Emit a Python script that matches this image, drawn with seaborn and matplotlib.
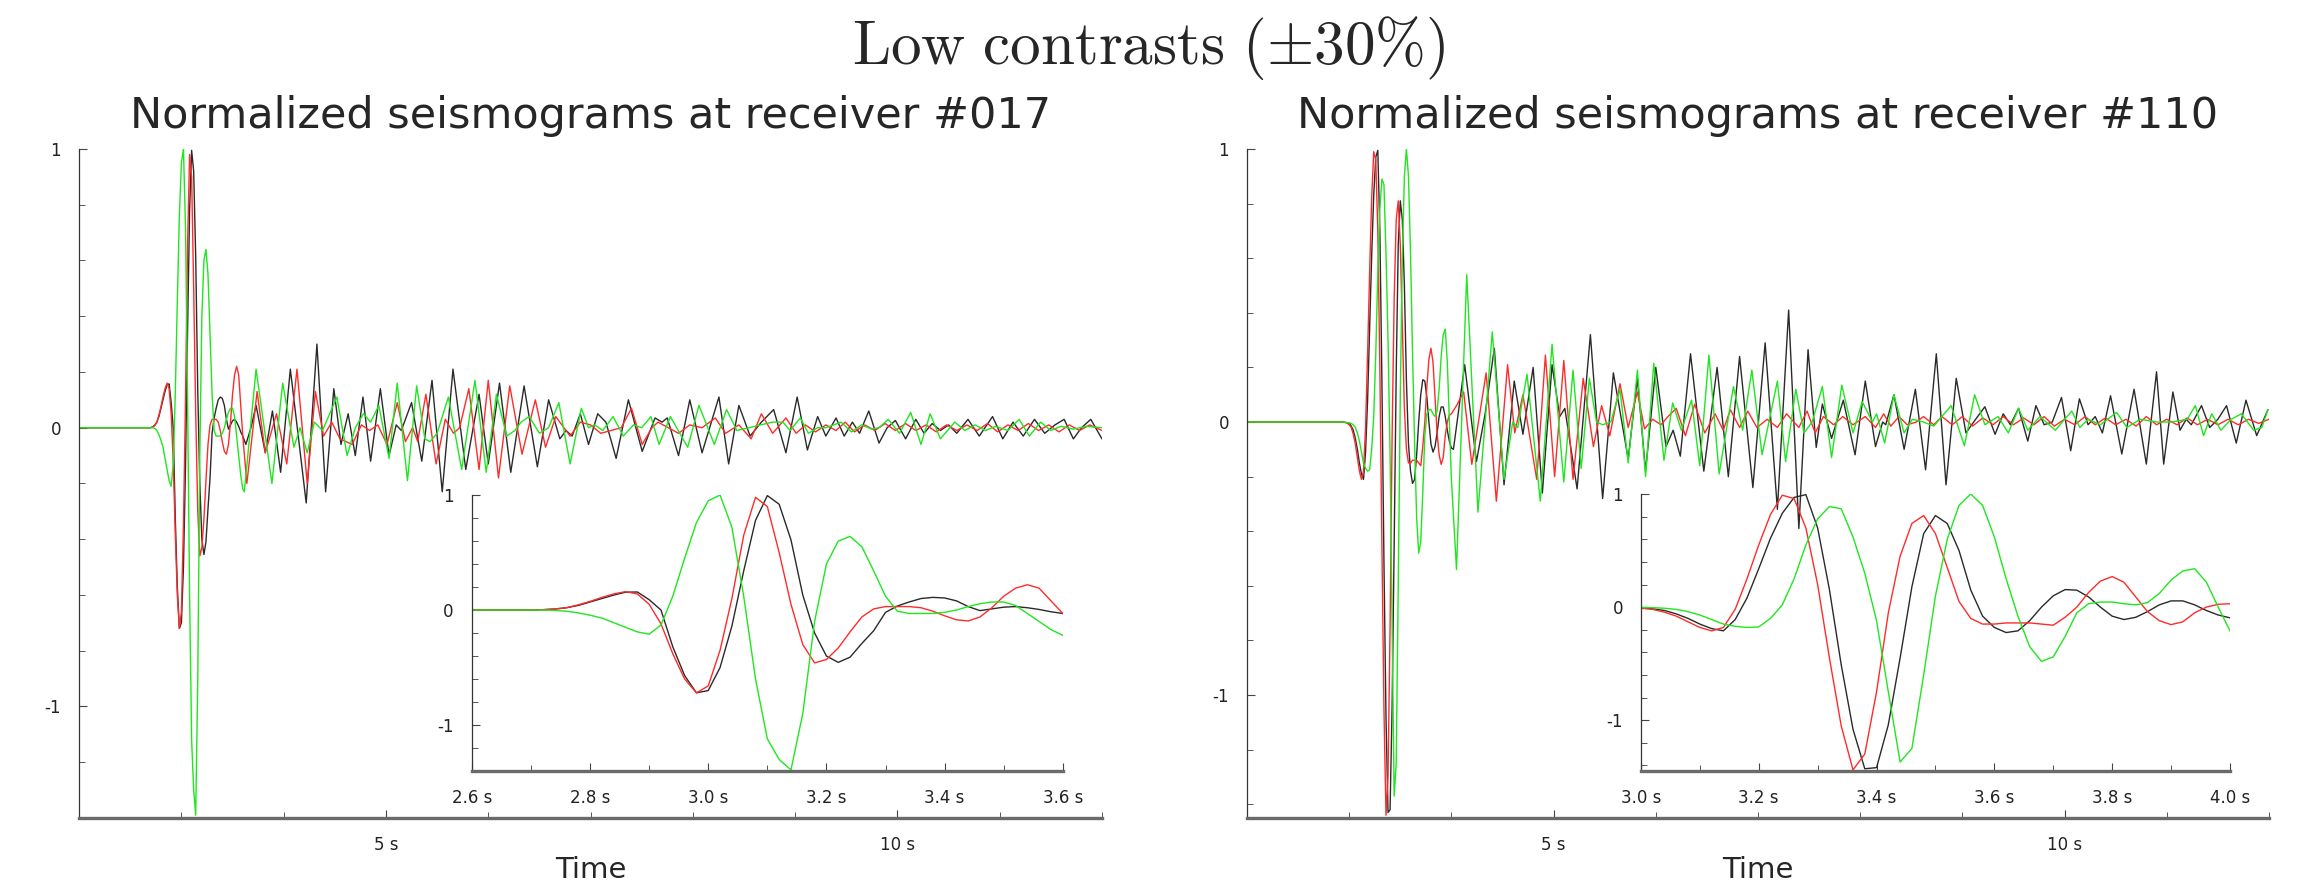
import matplotlib
matplotlib.use("Agg")
import matplotlib.pyplot as plt
from matplotlib.ticker import FixedLocator, MultipleLocator, FuncFormatter
import pandas as pd
import seaborn as sns

# ---------------- data ----------------
suptitle_text = r"$\mathrm{Low\ contrasts}\ (\pm 30\%)$"
title_017 = "Normalized seismograms at receiver #017"
title_110 = "Normalized seismograms at receiver #110"
xlabel_text = "Time"
trace_names = ["black", "red", "green"]
main_xticks = [5, 10]
main_yticks = [-1, 0, 1]
inset017_xticks = [2.6, 2.8, 3.0, 3.2, 3.4, 3.6]
inset110_xticks = [3.0, 3.2, 3.4, 3.6, 3.8, 4.0]

# receiver #017 : dense samples over the first arrival (also shown in the inset)
r017_pre = [(2.0, 0.0), (2.6, 0.0)]
r017_t = [2.70, 2.72, 2.74, 2.76, 2.78, 2.80, 2.82, 2.84, 2.86, 2.88,
          2.90, 2.92, 2.94, 2.96, 2.98, 3.00, 3.02, 3.04, 3.06, 3.08,
          3.10, 3.12, 3.14, 3.16, 3.18, 3.20, 3.22, 3.24, 3.26, 3.28,
          3.30, 3.32, 3.34, 3.36, 3.38, 3.40, 3.42, 3.44, 3.46, 3.48,
          3.50, 3.52, 3.54, 3.56, 3.58, 3.60]
r017_black = [0.0, 0.003, 0.008, 0.02, 0.04, 0.07, 0.10, 0.13, 0.155, 0.157,
              0.09, 0.0, -0.32, -0.57, -0.72, -0.70, -0.50, -0.14, 0.34, 0.78,
              0.995, 0.92, 0.61, 0.13, -0.20, -0.40, -0.455, -0.41, -0.29, -0.18,
              -0.02, 0.035, 0.07, 0.10, 0.11, 0.105, 0.08, 0.03, -0.005, 0.01,
              0.025, 0.03, 0.02, 0.005, -0.015, -0.03]
r017_red = [0.0, 0.003, 0.01, 0.02, 0.045, 0.075, 0.11, 0.14, 0.16, 0.14,
            0.05, -0.12, -0.38, -0.60, -0.72, -0.66, -0.35, 0.10, 0.65, 0.98,
            0.90, 0.50, 0.05, -0.30, -0.46, -0.43, -0.33, -0.19, -0.06, 0.01,
            0.03, 0.03, 0.03, 0.02, -0.01, -0.05, -0.085, -0.095, -0.06, 0.02,
            0.12, 0.19, 0.22, 0.19, 0.08, -0.03]
r017_green = [0.0, 0.0, -0.003, -0.01, -0.025, -0.045, -0.07, -0.11, -0.15, -0.19,
              -0.21, -0.13, 0.12, 0.45, 0.76, 0.95, 1.0, 0.72, 0.12, -0.60,
              -1.12, -1.30, -1.39, -0.90, -0.10, 0.40, 0.60, 0.64, 0.55, 0.34,
              0.12, -0.01, -0.03, -0.03, -0.03, -0.02, 0.0, 0.03, 0.055, 0.07,
              0.07, 0.04, -0.03, -0.10, -0.17, -0.22]
# coda extrema (time, amplitude)
r017_black_tail = [(3.63, -0.06), (3.68, 0.0), (3.73, 0.08), (3.82, -0.09), (3.89, 0.06), (3.97, -0.16),
                   (4.065, 0.21), (4.22, -0.27), (4.325, 0.30), (4.41, -0.23), (4.49, 0.14), (4.56, -0.06),
                   (4.63, 0.05), (4.70, -0.10), (4.775, 0.11), (4.85, -0.12), (4.945, 0.14), (5.03, -0.10),
                   (5.10, 0.01), (5.15, -0.01), (5.25, 0.09), (5.35, -0.12), (5.45, 0.17), (5.55, -0.23),
                   (5.655, 0.21), (5.78, -0.15), (5.91, 0.12), (6.00, -0.13), (6.11, 0.16), (6.22, -0.16),
                   (6.35, 0.15), (6.48, -0.14), (6.59, 0.10), (6.70, -0.04), (6.76, -0.01), (6.82, -0.03),
                   (6.90, 0.05), (6.98, -0.06), (7.07, 0.05), (7.15, 0.02), (7.25, -0.11), (7.37, 0.10),
                   (7.505, -0.085), (7.63, 0.035), (7.70, 0.02), (7.75, 0.035), (7.86, -0.10), (7.97, 0.10),
                   (8.09, -0.09), (8.255, 0.11), (8.35, -0.13), (8.45, 0.08), (8.56, -0.03), (8.67, 0.02),
                   (8.79, 0.065), (8.91, -0.09), (9.02, 0.11), (9.12, -0.08), (9.22, 0.04), (9.30, -0.03),
                   (9.40, 0.035), (9.48, -0.03), (9.56, 0.02), (9.63, -0.02), (9.72, 0.06), (9.82, -0.055),
                   (9.90, 0.0), (9.98, 0.026), (10.08, -0.04), (10.18, 0.03), (10.26, -0.02), (10.34, 0.015),
                   (10.42, -0.01), (10.50, 0.01), (10.58, -0.02), (10.69, 0.03), (10.80, -0.03), (10.93, 0.04),
                   (11.03, -0.04), (11.13, 0.02), (11.23, -0.03), (11.34, 0.03), (11.44, -0.02), (11.54, 0.01),
                   (11.63, 0.03), (11.72, -0.04), (11.80, 0.0), (11.89, 0.03), (12.0, -0.04)]
r017_red_tail = [(3.64, -0.20), (3.74, 0.13), (3.82, -0.09), (3.93, 0.05), (4.03, -0.13), (4.13, 0.21),
                 (4.23, -0.20), (4.31, 0.13), (4.39, -0.03), (4.47, 0.02), (4.55, -0.04), (4.67, -0.06),
                 (4.76, 0.01), (4.84, -0.01), (4.92, 0.01), (5.01, -0.06), (5.11, 0.09), (5.19, -0.05),
                 (5.26, 0.0), (5.31, -0.05), (5.39, 0.12), (5.49, -0.13), (5.58, 0.03), (5.66, -0.02),
                 (5.72, 0.0), (5.81, 0.14), (5.91, -0.15), (6.00, 0.17), (6.10, -0.18), (6.21, 0.15),
                 (6.33, -0.095), (6.46, 0.10), (6.56, -0.07), (6.66, 0.04), (6.74, 0.0), (6.80, -0.03),
                 (6.90, 0.02), (7.00, 0.01), (7.10, -0.02), (7.20, -0.01), (7.30, 0.0), (7.40, 0.07),
                 (7.505, -0.06), (7.60, 0.0), (7.66, 0.02), (7.76, 0.0), (7.86, -0.02), (7.97, 0.01),
                 (8.09, 0.0), (8.22, 0.035), (8.32, -0.02), (8.45, 0.01), (8.57, -0.04), (8.67, 0.05),
                 (8.78, -0.02), (8.91, 0.035), (9.01, -0.02), (9.10, 0.01), (9.20, -0.015), (9.30, 0.01),
                 (9.40, -0.01), (9.49, 0.02), (9.58, -0.015), (9.68, 0.01), (9.78, -0.01), (9.88, 0.015),
                 (9.98, -0.01), (10.08, 0.015), (10.18, -0.01), (10.28, 0.01), (10.38, -0.015), (10.48, 0.01),
                 (10.58, -0.01), (10.68, 0.01), (10.78, -0.01), (10.88, 0.015), (10.98, -0.015), (11.08, 0.01),
                 (11.18, -0.01), (11.28, 0.015), (11.38, -0.01), (11.48, 0.01), (11.58, -0.015), (11.68, 0.01),
                 (11.78, -0.01), (11.88, 0.01), (12.0, -0.01)]
r017_green_tail = [(3.615, -0.23), (3.73, 0.21), (3.885, -0.20), (3.99, 0.16), (4.10, -0.07), (4.16, 0.0),
                   (4.23, -0.09), (4.30, 0.02), (4.38, -0.01), (4.52, 0.11), (4.62, -0.10), (4.70, 0.0),
                   (4.78, 0.05), (4.85, 0.02), (4.93, 0.08), (5.03, -0.11), (5.11, 0.16), (5.21, -0.19),
                   (5.30, 0.15), (5.38, -0.04), (5.43, -0.05), (5.50, -0.02), (5.61, 0.11), (5.74, -0.15),
                   (5.87, 0.17), (5.98, -0.16), (6.08, 0.12), (6.18, -0.03), (6.26, -0.01), (6.32, 0.02),
                   (6.40, 0.04), (6.50, -0.02), (6.59, 0.0), (6.69, 0.09), (6.80, -0.13), (6.91, 0.07),
                   (6.98, 0.0), (7.04, 0.01), (7.12, -0.01), (7.22, 0.04), (7.32, -0.03), (7.42, 0.01),
                   (7.50, 0.0), (7.59, 0.04), (7.67, -0.06), (7.78, 0.04), (7.95, -0.07), (8.06, 0.08),
                   (8.21, -0.06), (8.33, 0.065), (8.43, -0.01), (8.55, 0.0), (8.66, 0.01), (8.78, 0.02),
                   (8.88, 0.02), (8.95, -0.01), (9.05, 0.035), (9.13, -0.02), (9.22, 0.0), (9.30, 0.0),
                   (9.45, 0.02), (9.55, -0.015), (9.65, 0.01), (9.75, -0.005), (9.82, 0.0), (9.91, 0.03),
                   (10.02, -0.02), (10.13, 0.055), (10.23, -0.06), (10.32, 0.05), (10.42, -0.04), (10.56, 0.02),
                   (10.66, -0.01), (10.76, 0.01), (10.86, -0.01), (10.96, 0.005), (11.08, -0.01), (11.19, 0.03),
                   (11.29, -0.03), (11.40, 0.02), (11.50, -0.01), (11.60, 0.005), (11.72, -0.005), (11.85, 0.005),
                   (12.0, 0.0)]

# receiver #110
r110_pre = [(2.0, 0.0), (2.94, 0.0), (2.97, -0.002)]
r110_t = [3.00, 3.02, 3.04, 3.06, 3.08, 3.10, 3.12, 3.14, 3.16, 3.18,
          3.20, 3.22, 3.24, 3.26, 3.28, 3.30, 3.32, 3.34, 3.36, 3.38,
          3.40, 3.42, 3.44, 3.46, 3.48, 3.50, 3.52, 3.54, 3.56, 3.58,
          3.60, 3.62, 3.64, 3.66, 3.68, 3.70, 3.72, 3.74, 3.76, 3.78,
          3.80, 3.82, 3.84, 3.86, 3.88, 3.90, 3.92, 3.94, 3.96, 3.98, 4.00]
r110_black = [-0.005, -0.015, -0.03, -0.06, -0.10, -0.15, -0.19, -0.21, -0.11, 0.08,
              0.34, 0.61, 0.83, 0.97, 0.995, 0.70, 0.155, -0.51, -1.08, -1.43,
              -1.42, -1.04, -0.45, 0.18, 0.65, 0.81, 0.74, 0.50, 0.15, -0.08,
              -0.18, -0.225, -0.21, -0.12, 0.0, 0.10, 0.155, 0.15, 0.09, 0.0,
              -0.08, -0.11, -0.09, -0.04, 0.02, 0.055, 0.055, 0.02, -0.03, -0.07, -0.095]
r110_red = [-0.01, -0.02, -0.045, -0.08, -0.13, -0.18, -0.21, -0.18, -0.02, 0.25,
            0.55, 0.82, 0.99, 0.96, 0.70, 0.20, -0.45, -1.05, -1.44, -1.30,
            -0.75, -0.05, 0.45, 0.74, 0.81, 0.65, 0.35, 0.05, -0.10, -0.15,
            -0.15, -0.14, -0.14, -0.14, -0.15, -0.16, -0.09, 0.0, 0.13, 0.23,
            0.27, 0.22, 0.09, -0.04, -0.12, -0.155, -0.13, -0.05, 0.0, 0.025, 0.03]
r110_green = [-0.003, -0.005, -0.01, -0.02, -0.04, -0.07, -0.11, -0.15, -0.17, -0.18,
              -0.175, -0.10, 0.02, 0.25, 0.55, 0.78, 0.89, 0.87, 0.62, 0.30,
              -0.12, -0.75, -1.37, -1.25, -0.60, 0.10, 0.60, 0.90, 1.0, 0.90,
              0.62, 0.25, -0.08, -0.35, -0.48, -0.44, -0.26, -0.05, 0.03, 0.045,
              0.045, 0.03, 0.02, 0.04, 0.12, 0.24, 0.32, 0.34, 0.22, 0.0, -0.21]
r110_black_tail = [(4.02, -0.10), (4.13, 0.21), (4.245, -0.145), (4.33, 0.03), (4.42, 0.27), (4.515, -0.23),
                   (4.615, 0.15), (4.70, -0.045), (4.80, 0.20), (4.89, -0.26), (4.985, 0.21), (5.06, 0.02),
                   (5.11, 0.05), (5.23, -0.245), (5.36, 0.32), (5.48, -0.28), (5.585, 0.18), (5.73, -0.135),
                   (5.82, 0.16), (5.90, -0.18), (6.00, 0.20), (6.10, -0.09), (6.17, -0.03), (6.24, -0.125),
                   (6.34, 0.25), (6.47, -0.18), (6.60, 0.20), (6.71, -0.20), (6.82, 0.24), (6.95, -0.24),
                   (7.07, 0.29), (7.19, -0.32), (7.30, 0.41), (7.40, -0.39), (7.49, 0.265), (7.57, -0.093),
                   (7.63, 0.066), (7.72, -0.06), (7.835, 0.08), (7.95, -0.12), (8.05, 0.15), (8.15, -0.09),
                   (8.22, 0.0), (8.25, -0.01), (8.33, 0.10), (8.43, -0.10), (8.54, 0.12), (8.64, -0.175),
                   (8.745, 0.25), (8.84, -0.23), (8.94, 0.16), (9.035, -0.04), (9.13, 0.01), (9.22, 0.056),
                   (9.32, -0.045), (9.40, 0.03), (9.47, -0.01), (9.55, 0.05), (9.64, -0.07), (9.72, 0.06),
                   (9.80, -0.01), (9.88, 0.0), (9.97, 0.09), (10.06, -0.105), (10.145, 0.085), (10.23, -0.01),
                   (10.30, 0.02), (10.37, -0.04), (10.45, 0.096), (10.56, -0.117), (10.68, 0.12), (10.80, -0.154),
                   (10.90, 0.184), (10.97, -0.154), (11.06, 0.11), (11.13, -0.03), (11.19, 0.01), (11.24, -0.01),
                   (11.34, 0.06), (11.42, -0.02), (11.50, 0.01), (11.585, 0.06), (11.68, -0.077), (11.775, 0.08),
                   (11.88, -0.05), (11.99, 0.045)]
r110_red_tail = [(4.05, 0.06), (4.12, 0.11), (4.20, -0.155), (4.34, 0.18), (4.44, -0.29), (4.55, 0.21),
                 (4.62, -0.04), (4.70, 0.10), (4.835, -0.21), (4.92, 0.245), (5.01, -0.20), (5.10, 0.225),
                 (5.19, -0.21), (5.29, 0.16), (5.39, -0.09), (5.47, 0.06), (5.55, -0.05), (5.65, 0.14),
                 (5.73, -0.02), (5.82, 0.11), (5.89, -0.025), (5.97, 0.01), (6.05, -0.01), (6.12, 0.02),
                 (6.20, 0.05), (6.29, -0.05), (6.38, 0.065), (6.48, -0.04), (6.58, 0.03), (6.66, -0.03),
                 (6.73, 0.045), (6.82, -0.02), (6.90, 0.04), (6.99, -0.02), (7.09, 0.01), (7.19, -0.02),
                 (7.28, 0.03), (7.40, -0.02), (7.48, 0.04), (7.56, -0.04), (7.64, 0.02), (7.74, -0.01),
                 (7.83, 0.02), (7.93, -0.01), (8.05, 0.02), (8.15, -0.02), (8.23, 0.03), (8.30, -0.015),
                 (8.38, 0.02), (8.46, -0.01), (8.55, 0.0), (8.62, 0.02), (8.72, -0.01), (8.80, 0.02),
                 (8.90, -0.01), (9.00, 0.02), (9.10, -0.015), (9.20, 0.015), (9.30, -0.01), (9.40, 0.02),
                 (9.50, -0.01), (9.60, 0.015), (9.70, -0.01), (9.80, 0.02), (9.90, -0.015), (10.00, 0.01),
                 (10.10, -0.01), (10.20, 0.02), (10.30, -0.01), (10.40, 0.015), (10.50, -0.01), (10.60, 0.01),
                 (10.70, -0.015), (10.80, 0.02), (10.90, -0.01), (11.00, 0.01), (11.10, -0.01), (11.20, 0.015),
                 (11.30, -0.01), (11.40, 0.01), (11.50, -0.01), (11.60, 0.01), (11.70, -0.01), (11.80, 0.01),
                 (11.90, -0.005), (12.0, 0.01)]
r110_green_tail = [(4.05, -0.54), (4.15, 0.54), (4.26, -0.33), (4.40, 0.33), (4.515, -0.21), (4.60, 0.0),
                   (4.65, -0.02), (4.74, 0.175), (4.87, -0.29), (4.985, 0.285), (5.10, -0.22), (5.19, 0.19),
                   (5.27, -0.17), (5.35, 0.16), (5.42, 0.0), (5.48, -0.01), (5.56, 0.0), (5.65, 0.12),
                   (5.73, -0.15), (5.82, 0.19), (5.90, -0.20), (5.98, 0.215), (6.08, -0.14), (6.165, 0.07),
                   (6.25, -0.03), (6.35, 0.08), (6.43, -0.16), (6.52, 0.245), (6.62, -0.19), (6.76, 0.13),
                   (6.85, -0.03), (6.94, 0.19), (7.04, -0.12), (7.19, 0.15), (7.27, -0.145), (7.37, 0.12),
                   (7.45, -0.04), (7.53, 0.0), (7.63, 0.13), (7.72, -0.13), (7.82, 0.135), (7.93, -0.04),
                   (8.02, 0.075), (8.12, 0.0), (8.16, 0.03), (8.24, -0.077), (8.33, 0.10), (8.43, -0.04),
                   (8.51, 0.01), (8.62, 0.0), (8.72, -0.015), (8.80, 0.02), (8.89, 0.06), (9.02, -0.087),
                   (9.12, 0.10), (9.22, -0.01), (9.35, 0.02), (9.45, -0.04), (9.55, 0.05), (9.64, -0.03),
                   (9.76, 0.02), (9.91, -0.03), (10.07, 0.04), (10.15, -0.02), (10.23, 0.01), (10.35, -0.01),
                   (10.51, 0.035), (10.61, -0.02), (10.74, 0.01), (10.90, 0.0), (11.05, 0.0), (11.20, 0.01),
                   (11.28, 0.06), (11.36, -0.05), (11.44, 0.03), (11.53, -0.03), (11.63, 0.01), (11.73, 0.03),
                   (11.85, -0.03), (11.93, -0.02), (11.99, 0.045)]

# ---------------- style ----------------
sns.set_style("ticks")
plt.rcParams["font.family"] = ["DejaVu Sans"]
plt.rcParams["mathtext.fontset"] = "cm"
plt.rcParams["axes.unicode_minus"] = False

PALETTE = {"black": "#2a2a2a", "red": "#ff2b2b", "green": "#1fe61f"}


def build_frame(pre, t_dense, dense, tails):
    rows = []
    for name in trace_names:
        pts = list(pre) + list(zip(t_dense, dense[name])) + list(tails[name])
        for t, v in pts:
            rows.append({"t": t, "v": v, "trace": name})
    return pd.DataFrame(rows)


df017 = build_frame(r017_pre, r017_t,
                    {"black": r017_black, "red": r017_red, "green": r017_green},
                    {"black": r017_black_tail, "red": r017_red_tail, "green": r017_green_tail})
df110 = build_frame(r110_pre, r110_t,
                    {"black": r110_black, "red": r110_red, "green": r110_green},
                    {"black": r110_black_tail, "red": r110_red_tail, "green": r110_green_tail})


def draw(ax, df):
    sns.lineplot(data=df, x="t", y="v", hue="trace", hue_order=trace_names,
                 palette=PALETTE, estimator=None, legend=False,
                 linewidth=1.0, ax=ax)
    ax.set_xlabel("")
    ax.set_ylabel("")


def style(ax, xlim, ylim, xticks, xminor, fmt):
    ax.set_xlim(*xlim)
    ax.set_ylim(*ylim)
    ax.xaxis.set_major_locator(FixedLocator(xticks))
    ax.xaxis.set_minor_locator(MultipleLocator(xminor))
    ax.xaxis.set_major_formatter(FuncFormatter(fmt))
    ax.yaxis.set_major_locator(FixedLocator(main_yticks))
    ax.yaxis.set_minor_locator(MultipleLocator(0.2))
    ax.yaxis.set_major_formatter(FuncFormatter(lambda v, p: f"{v:g}"))
    for s in ("top", "right"):
        ax.spines[s].set_visible(False)
    ax.spines["left"].set_linewidth(0.9)
    ax.spines["left"].set_color("#333333")
    ax.spines["bottom"].set_linewidth(2.4)
    ax.spines["bottom"].set_color("#6a6a6a")
    ax.tick_params(which="both", bottom=True, left=True, top=False, right=False)
    ax.tick_params(which="major", direction="in", length=6, width=0.8,
                   color="#444444", labelsize=12, labelcolor="#222222", pad=13)
    ax.tick_params(which="minor", direction="in", length=4, width=0.7,
                   color="#555555")
    ax.grid(False)


fig = plt.figure(figsize=(23.2, 8.84), dpi=100)

ax_l = fig.add_axes([0.0341, 0.0747, 0.4409, 0.7568])
ax_r = fig.add_axes([0.5375, 0.0747, 0.4405, 0.7568])
in_l = fig.add_axes([0.2034, 0.1278, 0.2547, 0.3122])
in_r = fig.add_axes([0.7073, 0.1278, 0.2539, 0.3133])

for ax, df in ((ax_l, df017), (in_l, df017), (ax_r, df110), (in_r, df110)):
    draw(ax, df)

main_fmt = lambda v, p: f"{v:g} s"
inset_fmt = lambda v, p: f"{v:.1f} s"
style(ax_l, (2, 12), (-1.4, 1.0), main_xticks, 1, main_fmt)
style(ax_r, (2, 12), (-1.45, 1.0), main_xticks, 1, main_fmt)
style(in_l, (2.6, 3.6), (-1.4, 1.0), inset017_xticks, 0.1, inset_fmt)
style(in_r, (3.0, 4.0), (-1.45, 1.0), inset110_xticks, 0.1, inset_fmt)
for ax in (in_l, in_r):
    ax.patch.set_alpha(0)

for ax, title in ((ax_l, title_017), (ax_r, title_110)):
    ax.set_title(title, fontsize=31, pad=15)
    ax.set_xlabel(xlabel_text, fontsize=21)
    ax.xaxis.set_label_coords(0.5, -0.0575)

fig.text(0.495, 0.9276, suptitle_text, fontsize=44, ha="center", va="baseline")

fig.savefig("out.png", dpi=100)
